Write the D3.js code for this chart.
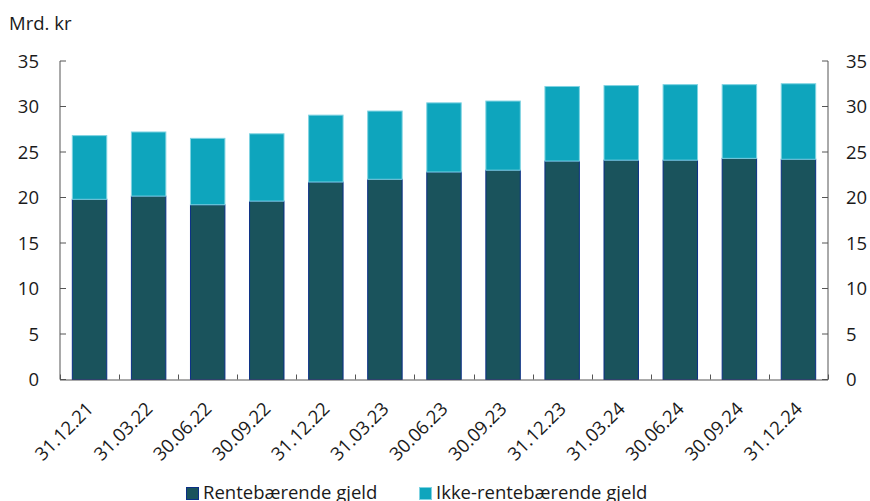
<!DOCTYPE html>
<html><head><meta charset="utf-8">
<script src="https://cdn.jsdelivr.net/npm/d3@7"></script>
<style>
body{margin:0;background:#fff;}
text{font-family:"Open Sans",sans-serif;fill:#1a1a1a;}
</style></head>
<body><svg id="c" width="870" height="501"></svg>
<script>
const categories = ["31.12.21","31.03.22","30.06.22","30.09.22","31.12.22","31.03.23","30.06.23","30.09.23","31.12.23","31.03.24","30.06.24","30.09.24","31.12.24"];
const rentebaerende = [19.8,20.15,19.2,19.6,21.7,22.0,22.8,23.0,24.0,24.1,24.1,24.3,24.2];
const totals = [26.8,27.2,26.5,27.0,29.05,29.5,30.4,30.6,32.2,32.3,32.4,32.4,32.5];
const ikkeRentebaerende = totals.map((t,i)=>+(t-rentebaerende[i]).toFixed(2));
const yTicks = [0,5,10,15,20,25,30,35];
const seriesNames = ["Rentebærende gjeld","Ikke-rentebærende gjeld"];
const colors = ["#1a535c","#0ea5bd"];
const strokes = ["#0b2f86","#7fd3e2"];
const FS = 18.5;

const svg = d3.select("#c");
const mLeft = 60, mRight = 828, mTop = 61, mBottom = 379.5;
const x = d3.scaleBand().domain(categories).range([mLeft,mRight]).paddingInner(0.4).paddingOuter(0.2);
const xEdges = d3.scaleBand().domain(categories).range([mLeft,mRight]);
const y = d3.scaleLinear().domain([0,35]).range([mBottom,mTop]);

const data = categories.map((c,i)=>({cat:c, a:rentebaerende[i], b:ikkeRentebaerende[i]}));
const stack = d3.stack().keys(["a","b"])(data);

svg.append("g").selectAll("g").data(stack).join("g")
  .attr("fill",(d,i)=>colors[i]).attr("stroke",(d,i)=>strokes[i]).attr("stroke-width",1)
  .selectAll("rect").data(d=>d).join("rect")
  .attr("x",d=>x(d.data.cat)+0.5).attr("width",x.bandwidth()-1)
  .attr("y",d=>y(d[1])).attr("height",d=>y(d[0])-y(d[1]));

// left axis
const gl = svg.append("g").attr("transform",`translate(${mLeft},0)`);
gl.append("line").attr("y1",y(35)).attr("y2",y(0)).attr("stroke","#555");
gl.selectAll("line.t").data(yTicks).join("line").attr("class","t")
  .attr("x1",0).attr("x2",6).attr("y1",d=>y(d)).attr("y2",d=>y(d)).attr("stroke","#555");
gl.selectAll("text").data(yTicks).join("text")
  .attr("x",-21).attr("y",d=>y(d)).attr("dy","0.36em").attr("text-anchor","end")
  .attr("font-size",FS).text(d=>d);

// right axis
const gr = svg.append("g").attr("transform",`translate(${mRight},0)`);
gr.append("line").attr("y1",y(35)).attr("y2",y(0)).attr("stroke","#555");
gr.selectAll("line.t").data(yTicks).join("line").attr("class","t")
  .attr("x1",0).attr("x2",-6).attr("y1",d=>y(d)).attr("y2",d=>y(d)).attr("stroke","#555");
gr.selectAll("text").data(yTicks).join("text")
  .attr("x",18).attr("y",d=>y(d)).attr("dy","0.36em").attr("text-anchor","start")
  .attr("font-size",FS).text(d=>d);

// x axis
const gx = svg.append("g");
gx.append("line").attr("x1",mLeft).attr("x2",mRight).attr("y1",mBottom+0.5).attr("y2",mBottom+0.5).attr("stroke","#555");
const edges = categories.map(c=>xEdges(c)).concat([mRight]);
gx.selectAll("line.t").data(edges).join("line").attr("class","t")
  .attr("x1",d=>Math.round(d)+0.5).attr("x2",d=>Math.round(d)+0.5).attr("y1",mBottom).attr("y2",mBottom-5).attr("stroke","#555");
gx.selectAll("text").data(categories).join("text")
  .attr("transform",d=>`translate(${x(d)+x.bandwidth()/2+5},${410}) rotate(-45)`)
  .attr("text-anchor","end").attr("font-size",FS).text(d=>d);

// y title
svg.append("text").attr("x",9).attr("y",30).attr("font-size",FS).text("Mrd. kr");

// legend
const legX = [186,419];
const lg = svg.append("g");
seriesNames.forEach((n,i)=>{
  lg.append("rect").attr("x",legX[i]+0.5).attr("y",487.5).attr("width",12).attr("height",12)
    .attr("fill",colors[i]).attr("stroke",strokes[i]);
  lg.append("text").attr("x",legX[i]+17).attr("y",499).attr("font-size",FS).text(n);
});
</script></body></html>
